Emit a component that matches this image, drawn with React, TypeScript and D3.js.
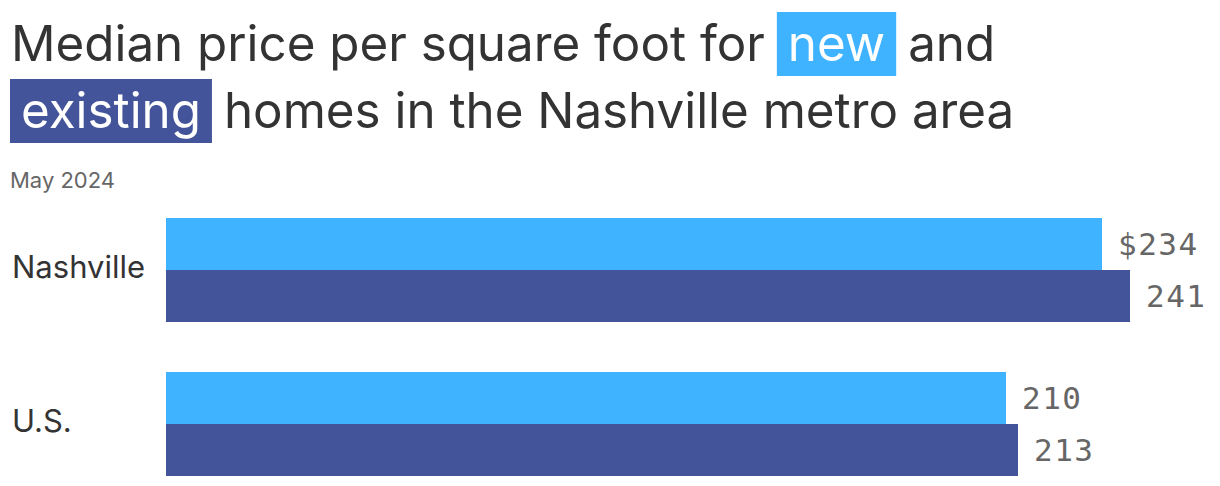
import { useEffect, useRef } from 'react';
import * as d3 from 'd3';

const WIDTH = 1220;
const HEIGHT = 486;

const categories = ['Nashville', 'U.S.'];
const seriesKeys = ['new', 'existing'];
const newValues = [234, 210];
const existingValues = [241, 213];
const valueLabels = [
  ['$234', '241'],
  ['210', '213'],
];

const COLORS: Record<string, string> = { new: '#3fb3ff', existing: '#44549a' };
const SANS = 'Inter, "Noto Sans", sans-serif';
const MONO = '"DejaVu Sans Mono", "Liberation Mono", monospace';

export default function App() {
  const svgRef = useRef<SVGSVGElement>(null);

  useEffect(() => {
    if (!svgRef.current) return;
    const svg = d3.select(svgRef.current);
    svg.selectAll('*').remove();

    // Title: plain words and highlighted words, laid out left to right
    const titleSize = 49.3;
    const PAD = 11; // padding inside highlight box
    const GAP = 12; // gap between box and neighbouring text
    const lines: { text: string; hl?: string }[][] = [
      [{ text: 'Median price per square foot for' }, { text: 'new', hl: 'new' }, { text: 'and' }],
      [{ text: 'existing', hl: 'existing' }, { text: 'homes in the Nashville metro area' }],
    ];
    const baselines = [61, 128];
    const titleG = svg.append('g');
    lines.forEach((parts, li) => {
      let x = li === 0 ? 11 : 10;
      parts.forEach((p, pi) => {
        if (pi > 0) x += GAP;
        const tx = p.hl ? x + PAD : x;
        const t = titleG
          .append('text')
          .attr('x', tx)
          .attr('y', baselines[li])
          .attr('font-family', SANS)
          .attr('font-size', titleSize)
          .attr('fill', p.hl ? '#fff' : '#333')
          .text(p.text);
        const w = (t.node() as SVGTextElement).getComputedTextLength();
        if (p.hl) {
          titleG
            .insert('rect', 'text')
            .attr('x', x)
            .attr('y', baselines[li] - 49)
            .attr('width', w + PAD * 2)
            .attr('height', 64)
            .attr('fill', COLORS[p.hl]);
          x += w + PAD * 2;
        } else {
          x += w;
        }
      });
    });

    svg
      .append('text')
      .attr('x', 10)
      .attr('y', 188)
      .attr('font-family', SANS)
      .attr('font-size', 22)
      .attr('fill', '#666')
      .text('May 2024');

    const x = d3.scaleLinear().domain([0, 241]).range([166, 1130]);
    const y0 = d3.scaleBand().domain(categories).range([218, 476]).paddingInner(50 / 154);
    const y1 = d3.scaleBand().domain(seriesKeys).range([0, y0.bandwidth()]);

    const rows = categories.map((c, i) => ({
      cat: c,
      vals: [
        { key: 'new', v: newValues[i], label: valueLabels[i][0] },
        { key: 'existing', v: existingValues[i], label: valueLabels[i][1] },
      ],
    }));

    const g = svg
      .selectAll('g.row')
      .data(rows)
      .join('g')
      .attr('class', 'row')
      .attr('transform', (d) => `translate(0,${y0(d.cat)})`);

    g.append('text')
      .attr('x', 12)
      .attr('y', y0.bandwidth() / 2 + 8)
      .attr('font-family', SANS)
      .attr('font-size', 31)
      .attr('fill', '#333')
      .text((d) => d.cat);

    g.selectAll('rect')
      .data((d) => d.vals)
      .join('rect')
      .attr('x', x(0))
      .attr('y', (d) => y1(d.key)!)
      .attr('width', (d) => x(d.v) - x(0))
      .attr('height', y1.bandwidth())
      .attr('fill', (d) => COLORS[d.key]);

    g.selectAll('text.val')
      .data((d) => d.vals)
      .join('text')
      .attr('class', 'val')
      .attr('x', (d) => x(d.v) + 16)
      .attr('y', (d) => y1(d.key)! + y1.bandwidth() / 2 + 11)
      .attr('font-family', MONO)
      .attr('font-size', 31)
      .attr('letter-spacing', 1.5)
      .attr('fill', '#666')
      .text((d) => d.label);
  }, []);

  return (
    <svg
      ref={svgRef}
      width={WIDTH}
      height={HEIGHT}
      style={{ position: 'absolute', left: 0, top: 0, background: '#fff' }}
    />
  );
}
